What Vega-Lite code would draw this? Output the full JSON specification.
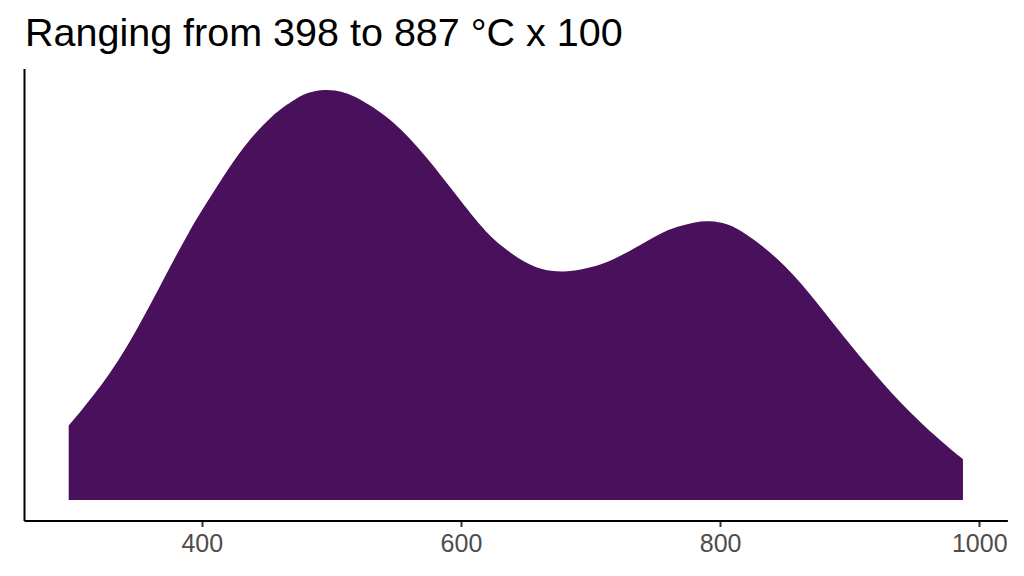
{
  "$schema": "https://vega.github.io/schema/vega-lite/v6.json",
  "autosize": {"type": "none"},
  "width": 983.4,
  "height": 452,
  "padding": {"left": 24, "top": 68.5, "right": 16.6, "bottom": 55.5},
  "background": "white",
  "title": {
    "text": "Ranging from 398 to 887 °C x 100",
    "anchor": "start",
    "frame": "group",
    "baseline": "alphabetic",
    "offset": 25.2,
    "dy": 42,
    "dx": 1,
    "font": "Liberation Sans",
    "fontSize": 39.5,
    "fontWeight": "normal",
    "color": "black"
  },
  "data": {
    "values": [
      {"temp": 297.3, "density": 0.181},
      {"temp": 316.1, "density": 0.251},
      {"temp": 341.9, "density": 0.365},
      {"temp": 370.1, "density": 0.535},
      {"temp": 390.7, "density": 0.657},
      {"temp": 403.6, "density": 0.722},
      {"temp": 429.3, "density": 0.852},
      {"temp": 455.1, "density": 0.941},
      {"temp": 473.1, "density": 0.977},
      {"temp": 480.8, "density": 0.991},
      {"temp": 495.0, "density": 1.0},
      {"temp": 509.1, "density": 0.994},
      {"temp": 522.0, "density": 0.977},
      {"temp": 547.7, "density": 0.925},
      {"temp": 573.5, "density": 0.835},
      {"temp": 599.2, "density": 0.73},
      {"temp": 609.5, "density": 0.689},
      {"temp": 622.4, "density": 0.641},
      {"temp": 635.3, "density": 0.608},
      {"temp": 648.1, "density": 0.58},
      {"temp": 661.0, "density": 0.561},
      {"temp": 679.0, "density": 0.553},
      {"temp": 699.6, "density": 0.564},
      {"temp": 717.6, "density": 0.584},
      {"temp": 738.2, "density": 0.62},
      {"temp": 753.7, "density": 0.649},
      {"temp": 766.6, "density": 0.665},
      {"temp": 779.4, "density": 0.676},
      {"temp": 792.3, "density": 0.68},
      {"temp": 805.2, "density": 0.673},
      {"temp": 818.0, "density": 0.653},
      {"temp": 843.8, "density": 0.592},
      {"temp": 869.5, "density": 0.503},
      {"temp": 895.2, "density": 0.397},
      {"temp": 921.0, "density": 0.3},
      {"temp": 946.7, "density": 0.211},
      {"temp": 972.4, "density": 0.138},
      {"temp": 987.4, "density": 0.099}
    ]
  },
  "mark": {"type": "area", "interpolate": "basis", "color": "#49105C"},
  "encoding": {
    "x": {
      "field": "temp",
      "type": "quantitative",
      "scale": {"domain": [262.8, 1021.7], "nice": false, "zero": false},
      "axis": {
        "title": null,
        "values": [400, 600, 800, 1000],
        "format": "d",
        "grid": false,
        "domainColor": "black",
        "domainWidth": 2,
        "tickColor": "#333333",
        "tickWidth": 2,
        "tickSize": 6,
        "labelFont": "Liberation Sans",
        "labelFontSize": 25,
        "labelColor": "#4D4D4D",
        "labelPadding": 5,
        "labelFlush": false
      }
    },
    "y": {
      "field": "density",
      "type": "quantitative",
      "scale": {"domain": [-0.05, 1.05], "nice": false, "zero": false},
      "axis": {
        "title": null,
        "labels": false,
        "ticks": false,
        "grid": false,
        "domainColor": "black",
        "domainWidth": 2
      }
    },
    "y2": {"datum": 0}
  },
  "config": {"view": {"stroke": null}}
}
